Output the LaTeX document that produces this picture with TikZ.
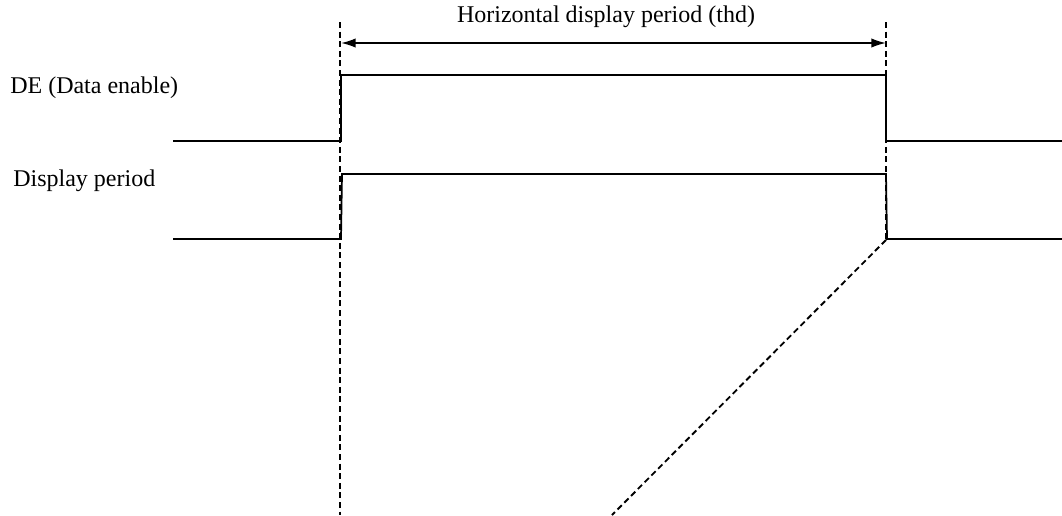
\documentclass[tikz,border=0pt]{standalone}
\usepackage{fontspec}
\setmainfont{Liberation Serif}
\usetikzlibrary{positioning,calc,arrows.meta}
\tikzset{>={Latex[length=11pt,width=7pt]}}

\begin{document}
\begin{tikzpicture}[x=0.75pt,y=-0.75pt,
  signal/.style={line width=1.3pt,line join=miter},
  guide/.style={line width=1.4pt,dash pattern=on 4.5pt off 2.7pt},
  lbl/.style={font=\fontsize{18}{21}\selectfont,inner sep=0pt}]
\useasboundingbox (0,0) rectangle (1062,515);
% edges
\coordinate (L) at (340,22);
\coordinate (R) at (886,22);
\coordinate (Lb) at (340,515);
\coordinate (Rb) at (886,240);
\coordinate (D) at (612,515);
% labels
\node [lbl] (thd) at (606,17) {Horizontal display period (thd)};
\node [lbl,anchor=west] (de) at (10,88) {DE (Data enable)};
\node [lbl,anchor=west] (dp) at (13,181) {Display period};
% guides
\draw [guide] (L) -- (Lb);
\draw [guide] (R) -- (Rb);
\draw [guide] (Rb) -- (D);
\draw [<->,line width=1.2pt] ($(L)+(1,21)$) -- ($(R)+(0,21)$);
% DE
\draw [signal] (173,141) -- (341,141) -- (341,75) -- (886,75) -- (886,141) -- (1062,141);
% display period
\draw [signal] (173,239) -- (341,239) -- (342,174) -- (886,174) -- (887,239) -- (1062,239);
\end{tikzpicture}
\end{document}
